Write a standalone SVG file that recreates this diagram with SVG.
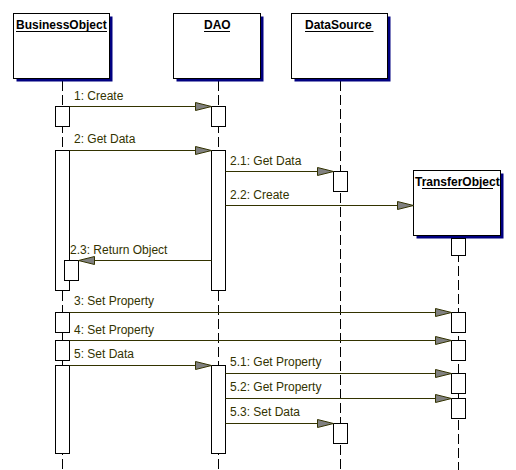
<svg xmlns="http://www.w3.org/2000/svg" width="516" height="470" viewBox="0 0 516 470">
<style>
.shadow{fill:#000080;stroke:none}
.box{fill:#fff;stroke:#000;stroke-width:1}
.title{font-family:"Liberation Sans",Arial,sans-serif;font-size:12px;font-weight:bold;fill:#000}
.ul{stroke:#000;stroke-width:1}
.life{stroke:#000;stroke-width:1;stroke-dasharray:10 4;fill:none}
.act{fill:#fff;stroke:#000;stroke-width:1}
.msg{stroke:#333300;stroke-width:1;fill:none;marker-end:url(#arr)}
.lbl{font-family:"Liberation Sans",Arial,sans-serif;font-size:12px;fill:#333300}
</style>
<defs>
<marker id="arr" markerUnits="userSpaceOnUse" markerWidth="18" markerHeight="10" refX="16.5" refY="5" orient="auto">
<path d="M0.5,1 L16.5,5 L0.5,9 Z" fill="#808080" stroke="#333300" stroke-width="1"/>
</marker>
</defs>
<rect width="516" height="470" fill="#fff"/>
<g id="lifelines">
<line class="life" x1="62.5" y1="81" x2="62.5" y2="470"/>
<line class="life" x1="218.5" y1="81" x2="218.5" y2="470"/>
<line class="life" x1="340.5" y1="81" x2="340.5" y2="470"/>
<line class="life" x1="458.5" y1="238" x2="458.5" y2="470"/>
</g>
<g id="BusinessObject">
<rect class="shadow" x="16.5" y="16.5" width="96" height="65"/>
<rect class="box" x="13.5" y="13.5" width="96" height="65"/>
<text class="title" x="16" y="29">BusinessObject</text>
<line class="ul" x1="16" y1="31.5" x2="107" y2="31.5"/>
</g>
<g id="DAO">
<rect class="shadow" x="176.5" y="16.5" width="87" height="65"/>
<rect class="box" x="173.5" y="13.5" width="87" height="65"/>
<text class="title" x="204" y="29">DAO</text>
<line class="ul" x1="204" y1="31.5" x2="230" y2="31.5"/>
</g>
<g id="DataSource">
<rect class="shadow" x="294.5" y="16.5" width="96" height="65"/>
<rect class="box" x="291.5" y="13.5" width="96" height="65"/>
<text class="title" x="305" y="29">DataSource</text>
<line class="ul" x1="305" y1="31.5" x2="373.5" y2="31.5"/>
</g>
<g id="TransferObject">
<rect class="shadow" x="416.5" y="173.5" width="87" height="65"/>
<rect class="box" x="413.5" y="170.5" width="87" height="65"/>
<text class="title" x="415" y="185.5">TransferObject</text>
<line class="ul" x1="422" y1="188.5" x2="493" y2="188.5"/>
</g>
<g id="activations">
<rect class="act" x="55.5" y="106.5" width="14" height="20"/>
<rect class="act" x="55.5" y="150.5" width="14" height="140"/>
<rect class="act" x="64.5" y="260.5" width="14" height="20"/>
<rect class="act" x="55.5" y="312.5" width="14" height="20"/>
<rect class="act" x="55.5" y="340.5" width="14" height="20"/>
<rect class="act" x="55.5" y="365.5" width="14" height="88"/>
<rect class="act" x="211.5" y="106.5" width="14" height="20"/>
<rect class="act" x="211.5" y="150.5" width="14" height="140"/>
<rect class="act" x="211.5" y="365.5" width="14" height="88"/>
<rect class="act" x="333.5" y="171.5" width="14" height="20"/>
<rect class="act" x="333.5" y="423.5" width="14" height="20"/>
<rect class="act" x="451.5" y="238.5" width="14" height="17"/>
<rect class="act" x="451.5" y="312.5" width="14" height="20"/>
<rect class="act" x="451.5" y="340.5" width="14" height="20"/>
<rect class="act" x="451.5" y="373.5" width="14" height="20"/>
<rect class="act" x="451.5" y="398.5" width="14" height="20"/>
</g>
<g id="connectors">
<line class="msg" x1="69.5" y1="106.5" x2="211.5" y2="106.5"/>
<line class="msg" x1="69.5" y1="150.5" x2="211.5" y2="150.5"/>
<line class="msg" x1="225.5" y1="171.5" x2="333.5" y2="171.5"/>
<line class="msg" x1="225.5" y1="205.5" x2="413.5" y2="205.5"/>
<line class="msg" x1="211.5" y1="260.5" x2="78.5" y2="260.5"/>
<line class="msg" x1="69.5" y1="312.5" x2="451.5" y2="312.5"/>
<line class="msg" x1="69.5" y1="340.5" x2="451.5" y2="340.5"/>
<line class="msg" x1="69.5" y1="365.5" x2="211.5" y2="365.5"/>
<line class="msg" x1="225.5" y1="373.5" x2="451.5" y2="373.5"/>
<line class="msg" x1="225.5" y1="398.5" x2="451.5" y2="398.5"/>
<line class="msg" x1="225.5" y1="423.5" x2="333.5" y2="423.5"/>
</g>
<g id="labels">
<text class="lbl" x="74" y="99.5">1: Create</text>
<text class="lbl" x="74" y="142.5">2: Get Data</text>
<text class="lbl" x="230" y="164.5">2.1: Get Data</text>
<text class="lbl" x="230" y="198.5">2.2: Create</text>
<text class="lbl" x="70" y="253.5">2.3: Return Object</text>
<text class="lbl" x="74" y="305">3: Set Property</text>
<text class="lbl" x="74" y="333.5">4: Set Property</text>
<text class="lbl" x="74" y="358">5: Set Data</text>
<text class="lbl" x="230" y="366">5.1: Get Property</text>
<text class="lbl" x="230" y="391">5.2: Get Property</text>
<text class="lbl" x="230" y="416">5.3: Set Data</text>
</g>
</svg>
